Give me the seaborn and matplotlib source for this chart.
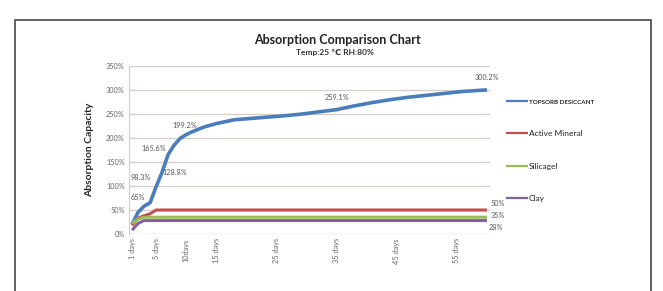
import pandas as pd
import seaborn as sns
import matplotlib.pyplot as plt
from matplotlib.patches import Rectangle

# data
blue_days = [1, 2, 3, 4, 5, 6, 7, 8, 9, 10, 11, 13, 15, 18, 21, 24, 27, 30,
             33, 35, 38, 41, 44, 47, 50, 53, 56, 60]
blue_vals = [20, 45, 58, 65, 98.3, 128.8, 165.6, 185, 199.2, 207, 213, 223,
             230, 238, 241, 244, 247, 251, 256, 259.1, 267, 274, 280, 285,
             289, 293, 297, 300.2]
red_days = [1, 2, 3, 4, 5, 60]
red_vals = [18, 33, 38, 42, 50, 50]
green_days = [1, 2, 3, 60]
green_vals = [22, 31, 35, 35]
purple_days = [1, 2, 3, 60]
purple_vals = [8, 22, 28, 28]

series_names = ['TOPSORB DESICCANT', 'Active Mineral', 'Silicagel', 'Clay']
colors = ['#4a7ebb', '#c0504d', '#9bbb59', '#8064a2']
widths = [2.6, 2.2, 2.2, 2.2]

blue_label_days = [4, 5, 6, 7, 9, 35, 60]
x_tick_days = [1, 5, 10, 15, 25, 35, 45, 55]
x_tick_labels = ['1 days', '5 days', '10days', '15 days', '25 days',
                 '35 days', '45 days', '55 days']
y_ticks = [0, 50, 100, 150, 200, 250, 300, 350]

sns.set_style("white")
plt.rcParams['font.family'] = ['Lato', 'DejaVu Sans']

fig = plt.figure(figsize=(6.63, 2.91), dpi=100)
ax = fig.add_axes([129 / 663, 1 - 234 / 291, 361 / 663, 168 / 291])

all_days = [blue_days, red_days, green_days, purple_days]
all_vals = [blue_vals, red_vals, green_vals, purple_vals]
for name, d, v, c, w in zip(series_names, all_days, all_vals, colors, widths):
    df = pd.DataFrame({'day': d, 'value': v})
    sns.lineplot(data=df, x='day', y='value', ax=ax, color=c, linewidth=w,
                 label=name, solid_capstyle='butt')

ax.set_xlim(0.5, 60.5)
ax.set_ylim(0, 350)
ax.set_yticks(y_ticks)
ax.set_yticklabels([f'{t}%' for t in y_ticks], fontsize=5.3, color='#666666')
ax.set_xticks(x_tick_days)
ax.set_xticklabels(x_tick_labels, rotation=90, fontsize=5.3, color='#666666')
ax.tick_params(axis='both', length=0, pad=3)
ax.grid(axis='y', color='#d6d0ca', linewidth=1.0)
ax.set_axisbelow(True)
for side in ['top', 'right', 'bottom']:
    ax.spines[side].set_visible(False)
ax.spines['left'].set_color('#cfcfcf')
ax.spines['left'].set_linewidth(0.8)
ax.set_xlabel('')
ax.set_ylabel('Absorption Capacity', fontsize=7.5, fontweight='bold',
              labelpad=9)

# data labels on the desiccant curve
offsets = {4: (-9, 4), 5: (-11, 7), 6: (9, 0), 7: (-10, 4), 9: (3, 9),
           35: (0, 9), 60: (0, 9)}
for d in blue_label_days:
    v = blue_vals[blue_days.index(d)]
    txt = f'{v:g}%'
    ax.annotate(txt, (d, v), xytext=offsets[d], textcoords='offset points',
                ha='center', va='center', fontsize=5.2, color='#555555')

end_offsets = [(8, 5), (8, 1), (6, -5)]
for d, v, off in zip(all_days[1:], all_vals[1:], end_offsets):
    ax.annotate(f'{v[-1]:g}%', (d[-1], v[-1]), xytext=off,
                textcoords='offset points', ha='center', va='center',
                fontsize=5.2, color='#555555')

leg = ax.legend(loc='upper left', bbox_to_anchor=(1.035, 0.83), frameon=False,
                fontsize=6, handlelength=2.6, handletextpad=0.15,
                labelspacing=3.05, borderaxespad=0)
leg.get_texts()[0].set_fontsize(4.5)
leg.get_texts()[0].set_fontweight('bold')
for h in leg.get_lines():
    h.set_linewidth(1.6)

fig.text(337 / 663, 1 - 40 / 291, 'Absorption Comparison Chart', ha='center',
         va='center', fontsize=9, fontweight='bold', color='#222222')
fig.text(335 / 663, 1 - 52 / 291, 'Temp:25 \u2103 RH:80%', ha='center',
         va='center', fontsize=6, fontweight='bold', color='#333333')

fig.patches.append(Rectangle((15 / 663, -0.02), 636 / 663, 1 - 20 / 291 + 0.02,
                             transform=fig.transFigure, fill=False,
                             edgecolor='#555555', linewidth=1.3))

fig.savefig('out.png', dpi=100)
